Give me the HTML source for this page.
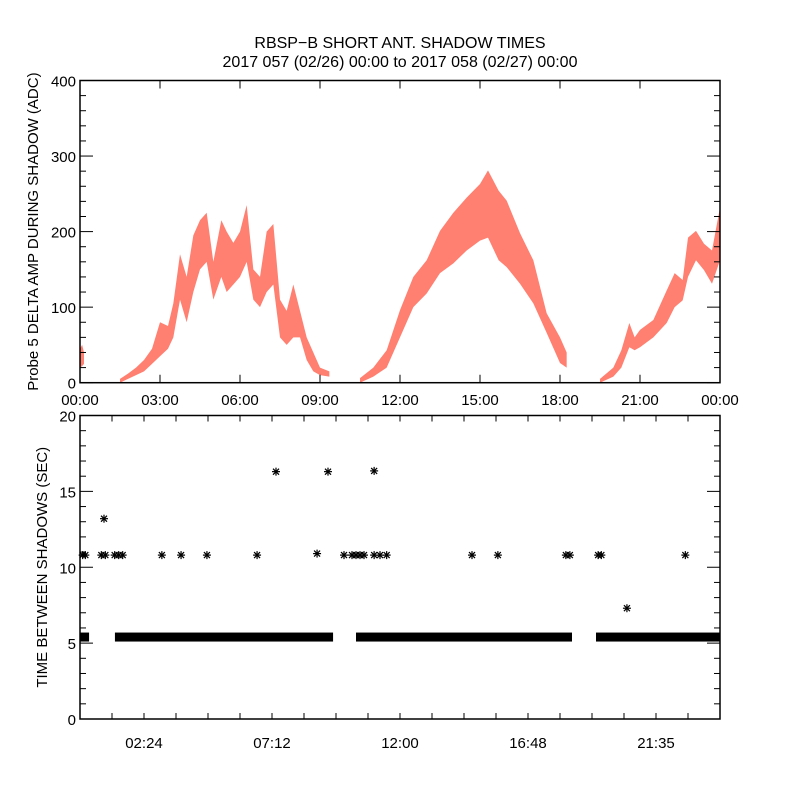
<!DOCTYPE html>
<html><head><meta charset="utf-8"><style>
body{margin:0;background:#fff;}
svg{display:block;font-family:"Liberation Sans",sans-serif;}
</style></head><body>
<svg id="c" width="800" height="800" viewBox="0 0 800 800">
<text x="400" y="48" font-size="16" text-anchor="middle">RBSP−B SHORT ANT. SHADOW TIMES</text>
<text x="400" y="67" font-size="16" text-anchor="middle">2017 057 (02/26) 00:00 to 2017 058 (02/27) 00:00</text>
<g id="topPanel"></g>
<g id="botPanel"></g>
</svg>
<script>
// Top panel data: segments of (hour, low, high) amplitude envelope
const seg1T=[0,0.08,0.15];
const seg1Lo=[20,22,25];
const seg1Hi=[45,50,40];
const seg2T=[1.5,1.8,2.1,2.4,2.7,3.0,3.3,3.5,3.75,4.0,4.25,4.5,4.75,5.0,5.3,5.5,5.75,6.0,6.25,6.5,6.75,7.0,7.25,7.5,7.75,8.0,8.25,8.5,8.75,9.0,9.35];
const seg2Lo=[0,5,10,15,25,35,45,60,110,80,120,150,160,110,140,120,130,140,160,110,100,120,130,60,50,60,60,30,15,10,8];
const seg2Hi=[5,12,20,30,45,80,75,105,170,140,195,215,225,160,215,200,185,200,235,150,140,200,210,110,95,130,95,60,40,20,15];
const seg3T=[10.5,11.0,11.5,12.0,12.5,13.0,13.5,14.0,14.5,15.0,15.3,15.7,16.0,16.5,17.0,17.5,18.0,18.25];
const seg3Lo=[0,8,20,60,100,118,145,158,175,188,192,162,153,131,105,66,26,20];
const seg3Hi=[6,20,43,96,140,162,201,225,245,263,281,254,241,198,162,92,60,40];
const seg4T=[19.5,20.0,20.3,20.6,20.8,21.0,21.5,22.0,22.3,22.6,22.8,23.1,23.4,23.7,24.0];
const seg4Lo=[0,8,20,47,43,47,60,79,100,109,140,162,149,131,162];
const seg4Hi=[5,20,43,79,60,70,83,122,145,136,192,201,184,175,232];
const topYTicks=[0,100,200,300,400];
const topXLabels=["00:00","03:00","06:00","09:00","12:00","15:00","18:00","21:00","00:00"];
// Bottom panel data
const bandStart=[0,1.31,10.35,19.35];
const bandEnd=[0.34,9.49,18.45,24];
const bandValue=[5.4,5.4,5.4,5.4];
const ptT=[0.1,0.2,0.8,0.95,1.3,1.45,1.6,3.07,3.79,4.76,6.64,8.89,9.9,10.2,10.35,10.5,10.65,11.03,11.25,11.5,14.7,15.67,18.22,18.37,19.43,19.55,22.7,0.9,7.35,9.3,11.03,20.51];
const ptV=[10.8,10.8,10.8,10.8,10.8,10.8,10.8,10.8,10.8,10.8,10.8,10.9,10.8,10.8,10.8,10.8,10.8,10.8,10.8,10.8,10.8,10.8,10.8,10.8,10.8,10.8,10.8,13.2,16.3,16.3,16.35,7.3];
const botYTicks=[0,5,10,15,20];
const botXLabels=["02:24","07:12","12:00","16:48","21:35"];

const NS="http://www.w3.org/2000/svg";
const X0=80,X1=720;
const xs=h=>X0+(X1-X0)*h/24;
const T0=80.5,T1=382.7, ysT=v=>T1-(T1-T0)*v/400;
const B0=415.5,B1=719, ysB=v=>B1-(B1-B0)*v/20;
function mk(tag,attrs,parent){const e=document.createElementNS(NS,tag);for(const k in attrs)e.setAttribute(k,attrs[k]);parent.appendChild(e);return e;}
const topG=document.getElementById('topPanel'), botG=document.getElementById('botPanel');

[[seg1T,seg1Lo,seg1Hi],[seg2T,seg2Lo,seg2Hi],[seg3T,seg3Lo,seg3Hi],[seg4T,seg4Lo,seg4Hi]].forEach((s,i)=>{
  const [T,L,H]=s;let pts=[];
  for(let k=0;k<T.length;k++)pts.push(xs(T[k])+','+ysT(H[k]));
  for(let k=T.length-1;k>=0;k--)pts.push(xs(T[k])+','+ysT(L[k]));
  const p=mk('polygon',{points:pts.join(' '),fill:'#ff2a10','fill-opacity':'0.6'},topG);
  
  
});
const bx=mk('rect',{x:X0,y:T0,width:X1-X0,height:T1-T0,fill:'none',stroke:'#000','stroke-width':1.5},topG);


for(let v=0;v<=400;v+=20){const major=v%100===0,len=major?13:6,y=ysT(v);
  mk('line',{x1:X0,x2:X0+len,y1:y,y2:y,stroke:'#000'},topG);mk('line',{x1:X1,x2:X1-len,y1:y,y2:y,stroke:'#000'},topG);}
topYTicks.forEach(v=>{const t=mk('text',{x:76,y:ysT(v)+6,'font-size':15,'text-anchor':'end'},topG);t.textContent=v;
  
  });
topXLabels.forEach((s,i)=>{const h=i*3,x=xs(h);
  mk('line',{x1:x,x2:x,y1:T0,y2:T0+8,stroke:'#000'},topG);mk('line',{x1:x,x2:x,y1:T1,y2:T1-8,stroke:'#000'},topG);
  const t=mk('text',{x:x,y:405,'font-size':15,'text-anchor':'middle'},topG);t.textContent=s;
  
  });
const yl=mk('text',{x:0,y:0,'font-size':15,'text-anchor':'middle',transform:'translate(38,'+((T0+T1)/2)+') rotate(-90)'},topG);
yl.textContent='Probe 5 DELTA AMP DURING SHADOW (ADC)';



for(let i=0;i<bandStart.length;i++){
  const r=mk('rect',{x:xs(bandStart[i]),y:ysB(bandValue[i])-4.5,width:xs(bandEnd[i])-xs(bandStart[i]),height:9,fill:'#000'},botG);
  
  
}
function star(x,y){const g=mk('g',{stroke:'#000','stroke-width':1.2},botG);
  mk('line',{x1:x-4,x2:x+4,y1:y,y2:y},g);mk('line',{x1:x,x2:x,y1:y-4,y2:y+4},g);
  mk('line',{x1:x-3,x2:x+3,y1:y-3,y2:y+3},g);mk('line',{x1:x-3,x2:x+3,y1:y+3,y2:y-3},g);return g;}
for(let i=0;i<ptT.length;i++){const g=star(xs(ptT[i]),ysB(ptV[i]));
  
  }
const bb=mk('rect',{x:X0,y:B0,width:X1-X0,height:B1-B0,fill:'none',stroke:'#000','stroke-width':1.5},botG);


for(let v=0;v<=20;v+=1){const major=v%5===0,len=major?13:6,y=ysB(v);
  mk('line',{x1:X0,x2:X0+len,y1:y,y2:y,stroke:'#000'},botG);mk('line',{x1:X1,x2:X1-len,y1:y,y2:y,stroke:'#000'},botG);}
botYTicks.forEach(v=>{const t=mk('text',{x:76,y:ysB(v)+6,'font-size':15,'text-anchor':'end'},botG);t.textContent=v;
  
  });
for(let k=1;k<20;k++){const x=xs(k*1.2);
  mk('line',{x1:x,x2:x,y1:B0,y2:B0+6,stroke:'#000'},botG);mk('line',{x1:x,x2:x,y1:B1,y2:B1-6,stroke:'#000'},botG);}
botXLabels.forEach((s,i)=>{const t=mk('text',{x:xs(2.4+i*4.8),y:748,'font-size':15,'text-anchor':'middle'},botG);t.textContent=s;
  
  });
const yl2=mk('text',{x:0,y:0,'font-size':15,'text-anchor':'middle',transform:'translate(47,'+((B0+B1)/2)+') rotate(-90)'},botG);
yl2.textContent='TIME BETWEEN SHADOWS (SEC)';


</script>
</body></html>
